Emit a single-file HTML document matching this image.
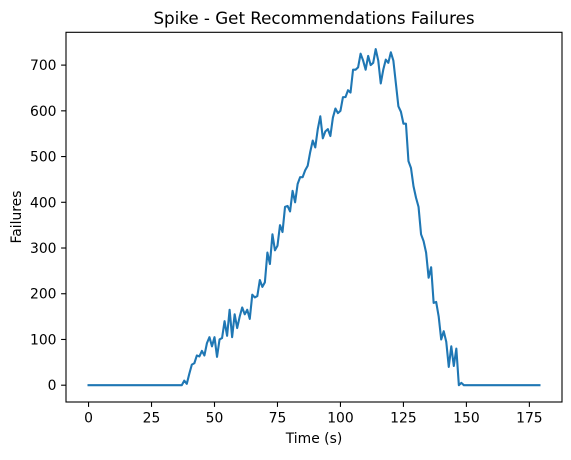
<!DOCTYPE html>
<html><head><meta charset="utf-8"><style>
body{margin:0;background:#fff;}
svg text{font-family:"DejaVu Sans","Liberation Sans",sans-serif;fill:#000;}
</style></head><body>
<svg id="chart" width="571" height="455" xmlns="http://www.w3.org/2000/svg">
<rect width="571" height="455" fill="#fff"/>
<text x="314" y="24" font-size="16.7" text-anchor="middle">Spike - Get Recommendations Failures</text>
<g id="xt"></g><g id="yt"></g>
<path id="line" fill="none" stroke="#1f77b4" stroke-width="2.1" stroke-linejoin="round" stroke-linecap="square"/>
<rect x="66" y="32.3" width="496" height="369.7" fill="none" stroke="#000" stroke-width="1.1"/>
<text x="314" y="443" font-size="13.9" text-anchor="middle">Time (s)</text>
<text x="0" y="0" font-size="13.9" text-anchor="middle" transform="translate(21,217) rotate(-90)">Failures</text>
</svg>
<script>
const xTicks=[0,25,50,75,100,125,150,175];
const yTicks=[0,100,200,300,400,500,600,700];
const spikeStart=37;
const spikeValues=[0,10,3,25,45,48,65,63,75,65,92,105,85,105,62,100,103,140,108,165,105,155,125,150,170,155,165,145,198,192,195,230,215,225,290,265,330,295,305,350,335,390,392,380,425,400,440,455,455,470,480,510,535,520,560,588,540,555,560,545,585,605,595,600,630,630,645,640,690,690,695,725,710,690,720,700,705,735,710,660,690,712,705,728,710,660,610,598,572,572,490,475,435,410,390,330,315,290,235,258,180,182,150,100,118,95,40,85,42,80,0,5,0];
const totalSeconds=180;
const times=[];const failures=[];
for(let t=0;t<totalSeconds;t++){times.push(t);const i=t-spikeStart;failures.push(i>=0&&i<spikeValues.length?spikeValues[i]:0);}
const X0=66,X1=562,Y0=402,Y1=32.3;
const xmin=-8.95,xmax=187.95,ymin=-36.75,ymax=771.75;
const sx=v=>X0+(v-xmin)/(xmax-xmin)*(X1-X0);
const sy=v=>Y0-(v-ymin)/(ymax-ymin)*(Y0-Y1);
const NS="http://www.w3.org/2000/svg";
const xt=document.getElementById('xt'),yt=document.getElementById('yt');
xTicks.forEach(v=>{
 const l=document.createElementNS(NS,'line');
 
 
 l.setAttribute('x1',sx(v));l.setAttribute('x2',sx(v));l.setAttribute('y1',Y0);l.setAttribute('y2',Y0+4.9);l.setAttribute('stroke','#000');l.setAttribute('stroke-width','1.1');xt.appendChild(l);
 const t=document.createElementNS(NS,'text');
 
 
 t.setAttribute('x',sx(v));t.setAttribute('y',Y0+20.5);t.setAttribute('font-size','13.9');t.setAttribute('text-anchor','middle');t.textContent=v;xt.appendChild(t);
});
yTicks.forEach(v=>{
 const l=document.createElementNS(NS,'line');
 
 
 l.setAttribute('x1',X0-4.9);l.setAttribute('x2',X0);l.setAttribute('y1',sy(v));l.setAttribute('y2',sy(v));l.setAttribute('stroke','#000');l.setAttribute('stroke-width','1.1');yt.appendChild(l);
 const t=document.createElementNS(NS,'text');
 
 
 t.setAttribute('x',X0-9.5);t.setAttribute('y',sy(v)+5);t.setAttribute('font-size','13.9');t.setAttribute('text-anchor','end');t.textContent=v;yt.appendChild(t);
});
document.getElementById('line').setAttribute('d',times.map((t,i)=>(i?'L':'M')+sx(t).toFixed(2)+','+sy(failures[i]).toFixed(2)).join(''));
</script>
</body></html>
